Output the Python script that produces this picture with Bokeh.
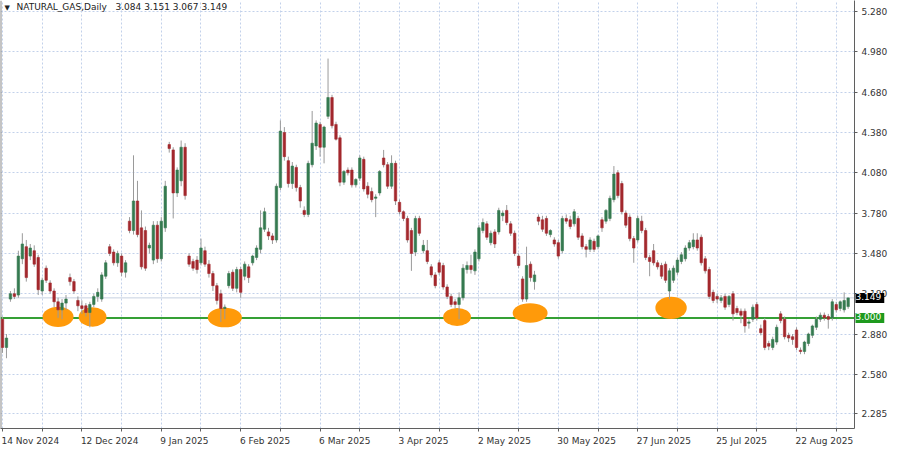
from bokeh.plotting import figure
from bokeh.layouts import row
from bokeh.models import (ColumnDataSource, FixedTicker, Span, Label,
                          Range1d, NumeralTickFormatter)
from bokeh.embed import file_html
from bokeh.resources import INLINE

# ---------------- data ----------------
symbol_title = "NATURAL_GAS,Daily"
last_ohlc_text = "3.084 3.151 3.067 3.149"

opens = [2.99, 2.78, 3.14, 3.18, 3.17, 3.44, 3.53, 3.46, 3.50, 3.45,
         3.20, 3.37, 3.26, 3.20, 3.12, 3.06, 3.11, 3.30, 3.27, 3.13,
         3.09, 3.09, 3.04, 3.10, 3.16, 3.14, 3.31, 3.53, 3.49, 3.41,
         3.46, 3.34, 3.72, 3.65, 3.87, 3.67, 3.65, 3.52, 3.43, 3.69,
         3.44, 3.67, 4.29, 4.25, 3.93, 4.02, 4.27, 3.46, 3.42, 3.43,
         3.41, 3.50, 3.40, 3.33, 3.24, 3.18, 3.07, 3.24, 3.34, 3.22,
         3.36, 3.31, 3.38, 3.41, 3.45, 3.51, 3.66, 3.64, 3.61, 3.58,
         3.97, 4.38, 4.17, 4.00, 4.12, 3.97, 3.80, 3.77, 4.14, 4.28,
         4.44, 4.27, 4.50, 4.64, 4.44, 4.34, 4.01, 4.10, 4.10, 3.99,
         4.04, 4.18, 3.98, 3.94, 3.89, 3.93, 4.19, 4.14, 3.98, 4.15,
         3.86, 3.79, 3.74, 3.65, 3.49, 3.74, 3.50, 3.50, 3.38, 3.32,
         3.41, 3.39, 3.23, 3.16, 3.12, 3.10, 3.15, 3.36, 3.39, 3.35,
         3.44, 3.65, 3.70, 3.56, 3.64, 3.64, 3.76, 3.80, 3.70, 3.63,
         3.46, 3.29, 3.14, 3.40, 3.27, 3.75, 3.73, 3.74, 3.62, 3.58,
         3.56, 3.50, 3.74, 3.73, 3.70, 3.74, 3.61, 3.53, 3.51, 3.57,
         3.53, 3.73, 3.72, 3.74, 3.88, 4.08, 4.00, 3.78, 3.75, 3.59,
         3.58, 3.72, 3.65, 3.45, 3.50, 3.41, 3.39, 3.40, 3.20, 3.28,
         3.34, 3.42, 3.44, 3.52, 3.53, 3.58, 3.60, 3.44, 3.36, 3.19,
         3.16, 3.13, 3.16, 3.10, 3.18, 3.07, 3.05, 3.05, 2.96, 2.99,
         3.10, 2.92, 2.98, 2.81, 2.78, 2.82, 3.03, 2.99, 2.87, 2.86,
         2.91, 2.76, 2.75, 2.81, 2.87, 2.93, 2.99, 3.02, 3.01, 3.00,
         3.10, 3.07, 3.06, 3.084]

highs = [3.01, 2.88, 3.20, 3.22, 3.50, 3.63, 3.58, 3.55, 3.54, 3.47,
         3.30, 3.39, 3.28, 3.22, 3.15, 3.14, 3.17, 3.33, 3.29, 3.16,
         3.13, 3.11, 3.12, 3.18, 3.22, 3.34, 3.43, 3.55, 3.51, 3.50,
         3.48, 3.43, 3.75, 4.21, 4.02, 3.80, 3.68, 3.56, 3.72, 3.72,
         3.75, 4.02, 4.31, 4.27, 4.12, 4.32, 4.30, 3.48, 3.44, 3.46,
         3.59, 3.53, 3.43, 3.35, 3.26, 3.21, 3.10, 3.35, 3.36, 3.38,
         3.38, 3.42, 3.40, 3.47, 3.54, 3.80, 3.82, 3.67, 3.63, 4.00,
         4.47, 4.42, 4.20, 4.16, 4.14, 3.99, 3.83, 4.17, 4.54, 4.47,
         4.46, 4.43, 4.93, 4.66, 4.46, 4.36, 4.10, 4.12, 4.12, 4.04,
         4.21, 4.20, 4.01, 3.97, 3.92, 4.10, 4.25, 4.16, 4.21, 4.17,
         3.88, 3.80, 3.76, 3.67, 3.76, 3.76, 3.58, 3.58, 3.40, 3.34,
         3.43, 3.41, 3.25, 3.18, 3.14, 3.19, 3.40, 3.42, 3.47, 3.51,
         3.69, 3.74, 3.72, 3.65, 3.66, 3.82, 3.80, 3.84, 3.72, 3.65,
         3.48, 3.31, 3.53, 3.42, 3.35, 3.77, 3.76, 3.76, 3.66, 3.60,
         3.58, 3.76, 3.77, 3.76, 3.81, 3.76, 3.63, 3.55, 3.60, 3.59,
         3.62, 3.75, 3.81, 3.91, 4.13, 4.10, 4.02, 3.80, 3.77, 3.61,
         3.76, 3.76, 3.67, 3.47, 3.55, 3.43, 3.41, 3.42, 3.37, 3.39,
         3.45, 3.49, 3.54, 3.58, 3.63, 3.63, 3.62, 3.46, 3.38, 3.21,
         3.18, 3.17, 3.18, 3.17, 3.20, 3.09, 3.07, 3.07, 2.99, 3.10,
         3.12, 2.95, 3.00, 2.83, 2.86, 2.95, 3.05, 3.01, 2.89, 2.88,
         2.93, 2.78, 2.83, 2.89, 2.95, 3.01, 3.04, 3.04, 3.03, 3.14,
         3.12, 3.13, 3.19, 3.151]

lows = [2.74, 2.70, 3.12, 3.14, 3.15, 3.40, 3.27, 3.43, 3.38, 3.17,
        3.17, 3.26, 3.18, 3.08, 3.00, 2.99, 3.06, 3.24, 3.18, 3.05,
        3.03, 3.01, 2.93, 3.08, 3.12, 3.12, 3.29, 3.46, 3.39, 3.38,
        3.31, 3.30, 3.63, 3.62, 3.60, 3.36, 3.35, 3.48, 3.40, 3.41,
        3.42, 3.64, 4.23, 3.74, 3.90, 3.98, 3.88, 3.38, 3.35, 3.33,
        3.39, 3.38, 3.30, 3.20, 3.10, 2.97, 2.99, 3.22, 3.20, 3.19,
        3.15, 3.28, 3.26, 3.39, 3.43, 3.48, 3.64, 3.58, 3.55, 3.56,
        3.95, 4.17, 3.97, 3.96, 3.94, 3.82, 3.75, 3.75, 4.12, 4.25,
        4.20, 4.15, 4.48, 4.41, 4.32, 3.98, 3.99, 4.06, 3.97, 3.97,
        4.02, 3.94, 3.89, 3.86, 3.75, 3.91, 4.12, 3.96, 3.96, 3.84,
        3.77, 3.72, 3.56, 3.35, 3.46, 3.61, 3.48, 3.40, 3.30, 3.22,
        3.32, 3.21, 3.14, 3.08, 3.07, 2.99, 3.13, 3.33, 3.33, 3.32,
        3.42, 3.63, 3.58, 3.54, 3.52, 3.62, 3.72, 3.69, 3.61, 3.46,
        3.37, 3.12, 3.12, 3.27, 3.21, 3.69, 3.64, 3.61, 3.60, 3.53,
        3.44, 3.48, 3.70, 3.66, 3.68, 3.58, 3.51, 3.45, 3.49, 3.49,
        3.51, 3.64, 3.70, 3.72, 3.86, 3.89, 3.77, 3.67, 3.57, 3.41,
        3.56, 3.63, 3.43, 3.31, 3.39, 3.36, 3.29, 3.26, 3.14, 3.26,
        3.32, 3.40, 3.42, 3.50, 3.51, 3.50, 3.39, 3.33, 3.14, 3.11,
        3.11, 3.11, 3.06, 3.08, 2.98, 3.02, 2.96, 2.89, 2.92, 2.97,
        2.98, 2.87, 2.76, 2.76, 2.76, 2.80, 2.96, 2.84, 2.82, 2.80,
        2.76, 2.73, 2.73, 2.79, 2.85, 2.91, 2.97, 2.98, 2.92, 2.98,
        3.04, 3.05, 3.04, 3.067]

closes = [2.78, 2.85, 3.18, 3.16, 3.46, 3.55, 3.30, 3.52, 3.40, 3.21,
          3.28, 3.28, 3.20, 3.12, 3.06, 3.11, 3.14, 3.27, 3.20, 3.09,
          3.07, 3.04, 3.10, 3.16, 3.19, 3.32, 3.41, 3.48, 3.41, 3.48,
          3.34, 3.41, 3.65, 3.87, 3.62, 3.38, 3.37, 3.54, 3.69, 3.44,
          3.72, 3.98, 4.26, 3.93, 4.10, 4.27, 3.91, 3.40, 3.37, 3.36,
          3.52, 3.40, 3.33, 3.24, 3.13, 3.07, 3.08, 3.33, 3.22, 3.36,
          3.19, 3.40, 3.30, 3.46, 3.52, 3.67, 3.79, 3.61, 3.58, 3.98,
          4.39, 4.20, 4.00, 4.13, 3.97, 3.87, 3.77, 4.15, 4.30, 4.45,
          4.27, 4.42, 4.64, 4.43, 4.33, 4.01, 4.09, 4.08, 3.99, 4.03,
          4.19, 3.96, 3.92, 3.88, 3.90, 4.09, 4.14, 3.98, 4.15, 3.87,
          3.79, 3.74, 3.58, 3.48, 3.74, 3.63, 3.54, 3.42, 3.32, 3.24,
          3.34, 3.23, 3.16, 3.10, 3.10, 3.15, 3.37, 3.39, 3.36, 3.49,
          3.67, 3.71, 3.60, 3.63, 3.55, 3.80, 3.78, 3.71, 3.63, 3.48,
          3.39, 3.14, 3.39, 3.30, 3.32, 3.72, 3.66, 3.63, 3.65, 3.55,
          3.46, 3.74, 3.72, 3.68, 3.79, 3.60, 3.53, 3.51, 3.58, 3.51,
          3.61, 3.67, 3.80, 3.89, 4.07, 3.91, 3.79, 3.69, 3.59, 3.52,
          3.74, 3.65, 3.45, 3.42, 3.41, 3.38, 3.31, 3.28, 3.35, 3.37,
          3.43, 3.47, 3.52, 3.56, 3.58, 3.52, 3.41, 3.35, 3.16, 3.13,
          3.14, 3.15, 3.08, 3.16, 3.03, 3.04, 3.02, 2.94, 2.97, 3.08,
          3.00, 2.89, 2.78, 2.79, 2.84, 2.93, 2.98, 2.86, 2.85, 2.84,
          2.78, 2.75, 2.82, 2.88, 2.94, 2.99, 3.02, 3.00, 2.99, 3.12,
          3.06, 3.12, 3.13, 3.149]

date_labels = ["14 Nov 2024", "12 Dec 2024", "9 Jan 2025", "6 Feb 2025",
               "6 Mar 2025", "3 Apr 2025", "2 May 2025", "30 May 2025",
               "27 Jun 2025", "25 Jul 2025", "22 Aug 2025"]
bars_per_label = 20
bars_per_grid = 10

price_ticks = [2.285, 2.58, 2.88, 3.18, 3.48, 3.78, 4.08, 4.38, 4.68, 4.98, 5.28]
support_level = 3.000
last_price = 3.149

# highlighted touches of the 3.000 support (bar index, price)
touch_bars = [14.0, 22.7, 56.0, 114.5, 132.9, 168.4]
touch_prices = [3.008, 3.007, 3.003, 3.007, 3.037, 3.074]

# ---------------- styles / layout ----------------
UP = "#357a50"
DOWN = "#a3282d"
WICK = "#9a9a9a"
GRID = "#c2d1ea"
ORANGE = "#ff9a0a"
SUPPORT = "#35a035"
AXIS = "#5f5f5f"
TXT = "#333333"
FONT = "DejaVu Sans"
FONT_PX = 9

touch_w = [7.8, 7.0, 8.6, 7.0, 8.8, 7.9]
touch_h = [0.150, 0.145, 0.145, 0.135, 0.145, 0.165]

W, H = 900, 450
RIGHT_BORDER = 46
BOTTOM_BORDER = 22
FRAME_W = W - RIGHT_BORDER

N = len(closes)
idx = list(range(N))
X_START, X_END = -0.5, N + 0.6
Y_START, Y_END = 2.177, 5.362
px_per_bar = FRAME_W / (X_END - X_START)

# approximate DejaVu Sans advance widths (em) to left-align date labels at their tick
CW = {" ": 0.318, "A": 0.684, "D": 0.770, "F": 0.575, "J": 0.295, "M": 0.863,
      "N": 0.748, "a": 0.613, "b": 0.635, "c": 0.550, "e": 0.615, "g": 0.635,
      "l": 0.278, "n": 0.634, "o": 0.612, "p": 0.635, "r": 0.411, "u": 0.634,
      "v": 0.592, "y": 0.592}


def text_px(s):
    return sum(CW.get(ch, 0.636) for ch in s) * FONT_PX


label_ticks = list(range(0, N, bars_per_label))[:len(date_labels)]
label_pos = [round(t + (text_px(s) / 2 - 1) / px_per_bar, 3)
             for t, s in zip(label_ticks, date_labels)]
grid_ticks = list(range(0, N, bars_per_grid))

p = figure(width=W, height=H,
           x_range=Range1d(X_START, X_END), y_range=Range1d(Y_START, Y_END),
           output_backend="svg", toolbar_location=None, y_axis_location="right",
           min_border_left=0, min_border_right=RIGHT_BORDER, min_border_top=0,
           min_border_bottom=BOTTOM_BORDER)
p.background_fill_color = "white"
p.border_fill_color = "white"
p.outline_line_color = None

# x axis: date labels left-aligned at every 2nd grid tick, tick marks every 10 bars
p.xaxis.ticker = FixedTicker(ticks=label_pos, minor_ticks=grid_ticks)
p.xaxis.major_label_overrides = {pos: s for pos, s in zip(label_pos, date_labels)}
p.xaxis.axis_line_color = AXIS
p.xaxis.major_tick_line_color = None
p.xaxis.major_tick_out = 0
p.xaxis.major_tick_in = 0
p.xaxis.minor_tick_line_color = AXIS
p.xaxis.minor_tick_out = 3
p.xaxis.minor_tick_in = 0
p.xaxis.major_label_standoff = 4
p.xaxis.major_label_text_font = FONT
p.xaxis.major_label_text_font_size = f"{FONT_PX}px"
p.xaxis.major_label_text_color = TXT

p.yaxis.ticker = FixedTicker(ticks=price_ticks)
p.yaxis.formatter = NumeralTickFormatter(format="0.000")
p.yaxis.axis_line_color = AXIS
p.yaxis.major_tick_line_color = AXIS
p.yaxis.major_tick_out = 3
p.yaxis.major_tick_in = 0
p.yaxis.minor_tick_line_color = None
p.yaxis.major_label_standoff = 4
p.yaxis.major_label_text_font = FONT
p.yaxis.major_label_text_font_size = f"{FONT_PX}px"
p.yaxis.major_label_text_color = TXT

p.xgrid.ticker = FixedTicker(ticks=grid_ticks)
for g in (p.xgrid, p.ygrid):
    g.grid_line_color = GRID
    g.grid_line_dash = "2 2"
    g.grid_line_width = 1

# left frame border
p.add_layout(Span(location=X_START, dimension="height", line_color="#8a8a8a",
                  line_width=2, level="underlay"))
# bid line and support line
p.add_layout(Span(location=last_price, dimension="width", line_color="#c6d0e0",
                  line_width=1, level="underlay"))
p.add_layout(Span(location=support_level, dimension="width", line_color=SUPPORT,
                  line_width=2, level="underlay"))

# orange highlight ellipses
p.ellipse(x=touch_bars, y=touch_prices, width=touch_w, height=touch_h,
          fill_color=ORANGE, line_color=None)

# candles
src = ColumnDataSource(dict(
    x=idx, o=opens, h=highs, l=lows, c=closes,
    top=[max(a, b) for a, b in zip(opens, closes)],
    bottom=[min(a, b) for a, b in zip(opens, closes)],
    color=[UP if c >= o else DOWN for o, c in zip(opens, closes)],
))
p.segment(x0="x", y0="h", x1="x", y1="l", source=src, line_color=WICK, line_width=1)
p.vbar(x="x", width=0.62, top="top", bottom="bottom", source=src,
       fill_color="color", line_color="color", line_width=0.6)

# title line
p.add_layout(Label(x=4, x_units="screen", y=Y_END, y_offset=-3, text="\u25bc",
                   text_align="left", text_baseline="top",
                   text_font=FONT, text_font_size="7px", text_color="#222222"))
p.add_layout(Label(x=16, x_units="screen", y=Y_END, y_offset=-1, text=symbol_title,
                   text_align="left", text_baseline="top",
                   text_font=FONT, text_font_size=f"{FONT_PX}px", text_color="#222222"))
p.add_layout(Label(x=115, x_units="screen", y=Y_END, y_offset=-1, text=last_ohlc_text,
                   text_align="left", text_baseline="top",
                   text_font=FONT, text_font_size=f"{FONT_PX}px", text_color="#222222"))

# transparent strip laid over the price scale, carrying the price boxes
side = figure(width=RIGHT_BORDER, height=H, x_range=Range1d(0, 1), y_range=p.y_range,
              output_backend="svg", toolbar_location=None,
              x_axis_location=None, y_axis_location=None,
              min_border_left=0, min_border_right=0, min_border_top=0,
              min_border_bottom=BOTTOM_BORDER)
side.outline_line_color = None
side.background_fill_alpha = 0
side.border_fill_alpha = 0
side.grid.visible = False
side.margin = (0, 0, 0, -RIGHT_BORDER)

box_pad = (0, 3, 0, 3)
side.add_layout(Label(x=1, x_units="screen", y=last_price, text=f"{last_price:.3f}",
                      text_align="left", text_baseline="middle",
                      text_font=FONT, text_font_size=f"{FONT_PX}px", text_color="white",
                      background_fill_color="black", padding=box_pad))
side.add_layout(Label(x=1, x_units="screen", y=support_level, text=f"{support_level:.3f}",
                      text_align="left", text_baseline="middle",
                      text_font=FONT, text_font_size=f"{FONT_PX}px", text_color="white",
                      background_fill_color="#1e9a1e", padding=box_pad))

layout = row(p, side, spacing=0)
open("out.html", "w").write(file_html(layout, INLINE))
